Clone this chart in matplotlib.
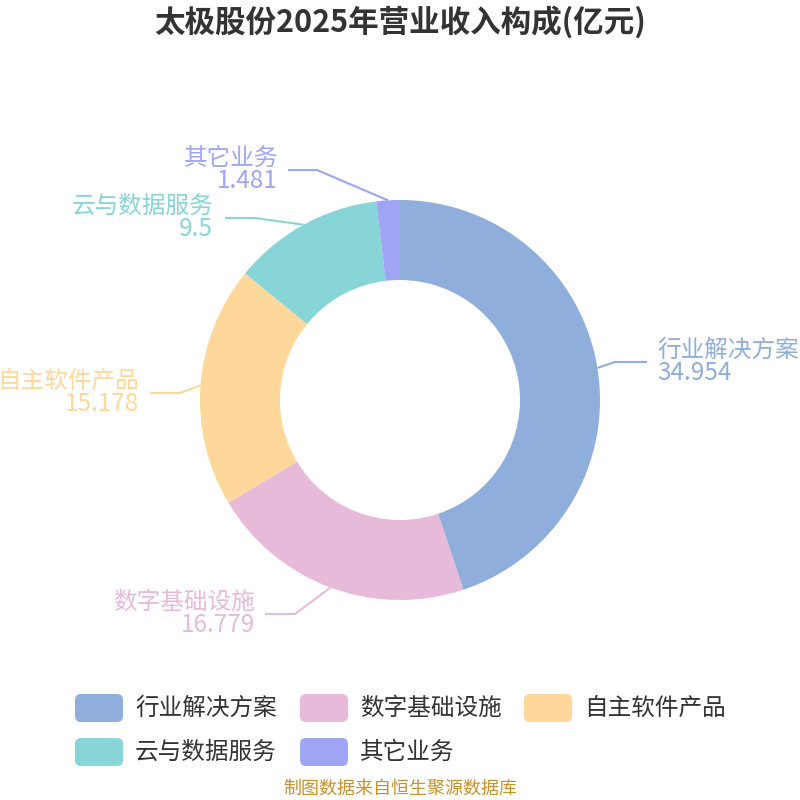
import matplotlib
matplotlib.use("Agg")
import matplotlib.pyplot as plt
from matplotlib.patches import FancyBboxPatch
import numpy as np

plt.rcParams['font.family'] = ['Noto Sans CJK SC', 'DejaVu Sans']

# 数据
categories = ['行业解决方案', '数字基础设施', '自主软件产品', '云与数据服务', '其它业务']
values = [34.954, 16.779, 15.178, 9.5, 1.481]
value_labels = ['34.954', '16.779', '15.178', '9.5', '1.481']
colors = ['#8FAEDB', '#E8BAD9', '#FED89B', '#87D5D7', '#A0A4F5']

title = '太极股份2025年营业收入构成(亿元)'
source = '制图数据来自恒生聚源数据库'

# 引导线折点 (elbow_x, line_y, end_x, 文字x, 对齐)
label_layout = [
    (615, 362, 647, 657, 'left'),
    (295, 614, 265, 255, 'right'),
    (180, 393, 150, 139, 'right'),
    (255, 218, 225, 213, 'right'),
    (317, 170, 288, 278, 'right'),
]

fig = plt.figure(figsize=(8, 8), dpi=100)
ax = fig.add_axes([0, 0, 1, 1])

cx, cy, R = 400, 400, 200
wedges, _ = ax.pie(values, colors=colors, center=(cx, cy), radius=R,
                   startangle=-90, counterclock=True,
                   wedgeprops=dict(width=80, linewidth=0))
# pie 会重设坐标范围, 之后再设
ax.set_xlim(0, 800)
ax.set_ylim(800, 0)
ax.set_aspect('equal')
ax.axis('off')

for w, name, vl, col, lay in zip(wedges, categories, value_labels, colors, label_layout):
    ang = np.deg2rad((w.theta1 + w.theta2) / 2)
    sx, sy = cx + R * np.cos(ang), cy + R * np.sin(ang)
    ex, ly, endx, tx, ha = lay
    ax.plot([sx, ex, endx], [sy, ly, ly], color=col, lw=1.5, solid_capstyle='butt')
    ax.text(tx, ly - 12, name, color=col, fontsize=17, ha=ha, va='center')
    ax.text(tx, ly + 11, vl, color=col, fontsize=17.5, ha=ha, va='center')

ax.text(400, 22, title, fontsize=22, fontweight='bold', color='#333333',
        ha='center', va='center')

# 图例
legend_pos = [(75, 708), (300, 708), (524, 708), (75, 752), (300, 752)]
for (lx, ly), name, col in zip(legend_pos, categories, colors):
    box = FancyBboxPatch((lx + 4, ly - 10), 40, 20,
                         boxstyle='round,pad=4,rounding_size=6',
                         facecolor=col, edgecolor='none')
    ax.add_patch(box)
    ax.text(lx + 60, ly, name, fontsize=17, color='#333333', ha='left', va='center')

ax.text(400, 789, source, fontsize=13, color='#C8922A', ha='center', va='center')

fig.savefig('out.png', dpi=100)
